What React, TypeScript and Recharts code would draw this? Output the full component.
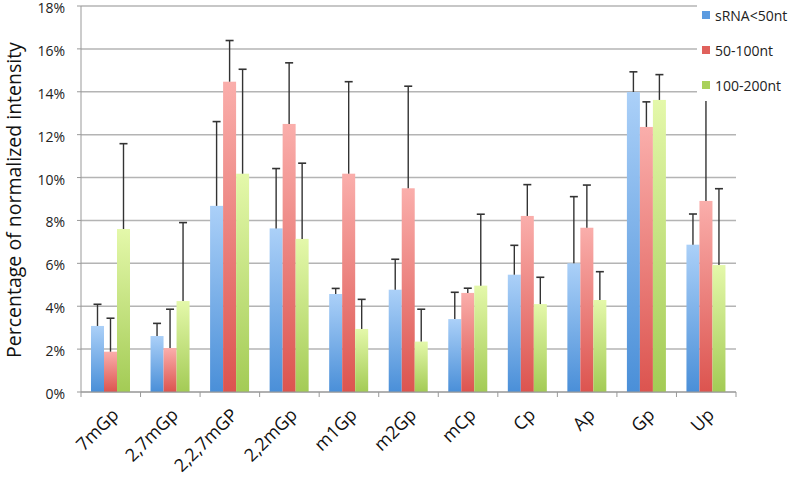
import React from 'react';
import { BarChart, Bar, XAxis, YAxis, CartesianGrid, Legend } from 'recharts';

const categories = ['7mGp', '2,7mGp', '2,2,7mGP', '2,2mGp', 'm1Gp', 'm2Gp', 'mCp', 'Cp', 'Ap', 'Gp', 'Up'];
const sRNA = [3.08, 2.61, 8.68, 7.63, 4.57, 4.77, 3.4, 5.47, 6.0, 13.99, 6.87];
const sRNAErrTop = [4.09, 3.2, 12.61, 10.42, 4.83, 6.19, 4.65, 6.84, 9.11, 14.93, 8.3];
const nt50to100 = [1.88, 2.05, 14.47, 12.5, 10.18, 9.5, 4.62, 8.21, 7.66, 12.36, 8.91];
const nt50to100ErrTop = [3.44, 3.86, 16.39, 15.35, 14.47, 14.26, 4.84, 9.67, 9.65, 13.53, 14.5];
const nt100to200 = [7.6, 4.24, 10.18, 7.14, 2.94, 2.35, 4.96, 4.1, 4.29, 13.62, 5.92];
const nt100to200ErrTop = [11.58, 7.9, 15.05, 10.67, 4.32, 3.86, 8.29, 5.35, 5.61, 14.8, 9.48];
const yTicks = [0, 2, 4, 6, 8, 10, 12, 14, 16, 18];
const seriesNames = ['sRNA<50nt', '50-100nt', '100-200nt'];
const legendColors = ['#5b9be0', '#e0615c', '#a9d15a'];

const data = categories.map((c, i) => ({
  name: c,
  a: sRNA[i],
  aErr: sRNAErrTop[i],
  b: nt50to100[i],
  bErr: nt50to100ErrTop[i],
  c: nt100to200[i],
  cErr: nt100to200ErrTop[i],
}));

const FONT = '"Open Sans", sans-serif';

const makeShape = (key: string, errKey: string, gradId: string) => (props: any) => {
  const { x, y, width, height, payload } = props;
  const v = payload[key];
  const e = payload[errKey];
  const pxPer = v > 0 ? height / v : 0;
  const errY = y + height - e * pxPer;
  const cx = x + width / 2;
  return (
    <g>
      <rect x={x} y={y} width={width} height={height} fill={`url(#${gradId})`} />
      <line x1={cx} y1={y} x2={cx} y2={errY} stroke="#333" strokeWidth={1.4} />
      <line x1={cx - 4} y1={errY} x2={cx + 4} y2={errY} stroke="#333" strokeWidth={1.6} />
    </g>
  );
};

const XTick = (props: any) => {
  const { x, y, payload, index } = props;
  const off = payload.offset || 0;
  const tx = x + 9;
  const ty = y + 24;
  return (
    <g>
      <line x1={x - off} y1={y} x2={x - off} y2={y + 5} stroke="#999" strokeWidth={1} />
      {index === categories.length - 1 && (
        <line x1={x + off} y1={y} x2={x + off} y2={y + 5} stroke="#999" strokeWidth={1} />
      )}
      <text
        x={tx}
        y={ty}
        textAnchor="end"
        transform={`rotate(-45, ${tx}, ${ty})`}
        fontSize={18}
        fontFamily={FONT}
        fill="#111"
      >
        {payload.value}
      </text>
    </g>
  );
};

const LegendContent = () => (
  <div style={{ position: 'relative', width: 97, height: 101, background: '#fff', fontFamily: FONT }}>
    {seriesNames.map((n, i) => (
      <div key={n} style={{ position: 'absolute', left: 5, top: 5 + i * 35, display: 'flex', alignItems: 'center', height: 20 }}>
        <div style={{ width: 8, height: 8, background: legendColors[i], marginRight: 5 }} />
        <span style={{ fontSize: 14, color: '#222', whiteSpace: 'nowrap' }}>{n}</span>
      </div>
    ))}
  </div>
);

export default function App() {
  return (
    <div style={{ position: 'absolute', left: 0, top: 0, width: 794, height: 482, background: '#fff' }}>
      <BarChart
        width={794}
        height={482}
        data={data}
        margin={{ top: 6, right: 58, bottom: 0, left: 0 }}
        barCategoryGap={10}
        barGap={0}
      >
        <defs>
          <linearGradient id="gBlue" x1="0" y1="0" x2="0" y2="1">
            <stop offset="0%" stopColor="#abd0f8" />
            <stop offset="100%" stopColor="#4a8fd8" />
          </linearGradient>
          <linearGradient id="gRed" x1="0" y1="0" x2="0" y2="1">
            <stop offset="0%" stopColor="#faaeab" />
            <stop offset="100%" stopColor="#dc544f" />
          </linearGradient>
          <linearGradient id="gGreen" x1="0" y1="0" x2="0" y2="1">
            <stop offset="0%" stopColor="#e4f8aa" />
            <stop offset="100%" stopColor="#a3cb55" />
          </linearGradient>
        </defs>
        <CartesianGrid vertical={false} stroke="#b4b4b4" strokeWidth={1.5} />
        <XAxis
          dataKey="name"
          height={90}
          interval={0}
          tickLine={false}
          tickSize={0}
          tickMargin={0}
          axisLine={{ stroke: '#999', strokeWidth: 1 }}
          tick={<XTick />}
        />
        <YAxis
          width={81}
          domain={[0, 18]}
          ticks={yTicks}
          interval={0}
          tickFormatter={(v: number) => `${v}%`}
          tickSize={4}
          tickMargin={12}
          axisLine={{ stroke: '#999', strokeWidth: 1 }}
          tickLine={{ stroke: '#999' }}
          tick={{ fontSize: 14, fontFamily: FONT, fill: '#222', dy: 2 }}
          label={{
            content: () => (
              <text
                x={21}
                y={200}
                textAnchor="middle"
                transform="rotate(-90, 21, 200)"
                fontSize={19.5}
                fontFamily={FONT}
                fill="#111"
              >
                Percentage of normalized intensity
              </text>
            ),
          }}
        />
        <Legend
          layout="horizontal"
          verticalAlign="middle"
          align="center"
          wrapperStyle={{ left: 697, top: 0, width: 97, height: 101 }}
          content={<LegendContent />}
        />
        <Bar dataKey="a" name={seriesNames[0]} fill="#5b9be0" isAnimationActive={false} shape={makeShape('a', 'aErr', 'gBlue')} />
        <Bar dataKey="b" name={seriesNames[1]} fill="#e0615c" isAnimationActive={false} shape={makeShape('b', 'bErr', 'gRed')} />
        <Bar dataKey="c" name={seriesNames[2]} fill="#a9d15a" isAnimationActive={false} shape={makeShape('c', 'cErr', 'gGreen')} />
      </BarChart>
    </div>
  );
}
